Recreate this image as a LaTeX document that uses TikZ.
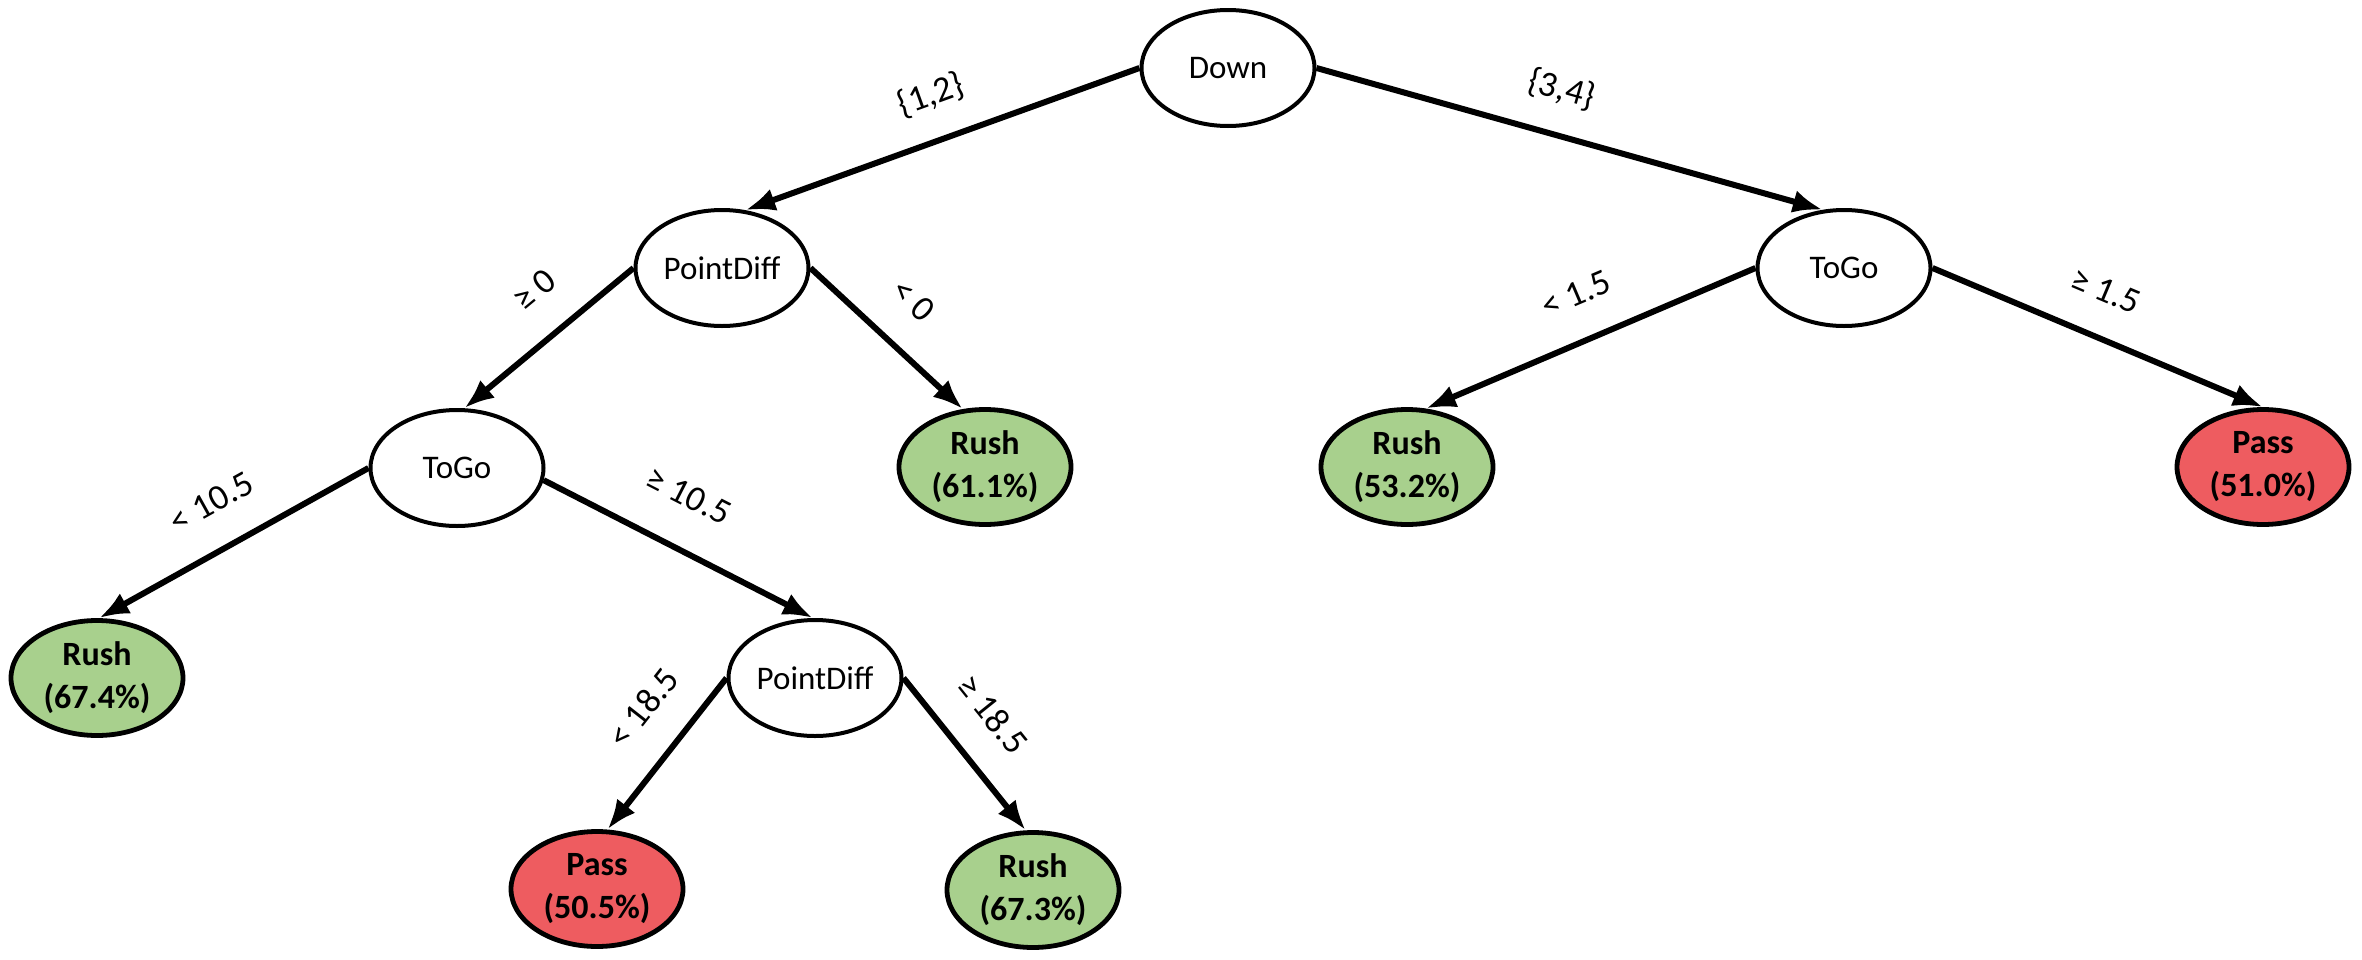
\documentclass[tikz,border=0pt]{standalone}
\usepackage{fontspec}
\setmainfont{Carlito}
\usetikzlibrary{arrows.meta,shapes.geometric}
\definecolor{leafgreen}{RGB}{168,208,141}
\definecolor{leafred}{RGB}{238,92,96}
\tikzset{
  splitnode/.style={ellipse,draw,line width=2pt,fill=white,minimum width=86.5pt,minimum height=58pt,inner sep=0pt,font=\fontsize{16.5}{21}\selectfont},
  leafnode/.style={ellipse,draw,line width=2.4pt,minimum width=86pt,minimum height=57.5pt,inner sep=0pt,align=center,font=\fontsize{17}{21.5}\selectfont\bfseries},
  rushleaf/.style={leafnode,fill=leafgreen},
  passleaf/.style={leafnode,fill=leafred},
  branch/.style={line width=3pt,-{Latex[length=15pt,width=11.5pt]}},
  cond/.style={sloped,above=12pt,inner sep=0pt,text height=13pt,text depth=4pt,font=\fontsize{18}{21}\selectfont}
}
\begin{document}
\begin{tikzpicture}[x=0.5pt,y=-0.5pt]
\useasboundingbox (0,0) rectangle (2362,959);
\node[splitnode] (down) at (1228,68) {Down};
\node[splitnode] (pd1) at (722,268) {PointDiff};
\node[splitnode] (togor) at (1844,268) {ToGo};
\node[splitnode] (togol) at (457,468) {ToGo};
\node[rushleaf] (r611) at (985,467) {Rush\\(61.1\%)};
\node[rushleaf] (r532) at (1407,467) {Rush\\(53.2\%)};
\node[passleaf] (p510) at (2263,467) {Pass\\(51.0\%)};
\node[rushleaf] (r674) at (97,678) {Rush\\(67.4\%)};
\node[splitnode] (pd2) at (815,678) {PointDiff};
\node[passleaf] (p505) at (597,889) {Pass\\(50.5\%)};
\node[rushleaf] (r673) at (1033,890) {Rush\\(67.3\%)};

\draw[branch] (down.west) -- node[cond,pos=0.49] {\{1,2\}} (pd1.68);
\draw[branch] (down.east) -- node[cond,pos=0.46] {\{3,4\}} (togor.110);
\draw[branch] (pd1.west) -- node[cond,pos=0.41] {≥ 0} (togol.83);
\draw[branch] (pd1.east) -- node[cond,pos=0.47] {< 0} (r611.111);
\draw[branch] (togor.west) -- node[cond,pos=0.49] {< 1.5} (r532.72);
\draw[branch] (togor.east) -- node[cond,pos=0.47] {≥ 1.5} (p510.90);
\draw[branch] (togol.west) -- node[cond,pos=0.5] {< 10.5} (r674.88);
\draw[branch] (togol.-8) -- node[cond,pos=0.45,above=3pt] {≥ 10.5} (pd2.92);
\draw[branch] (pd2.west) -- node[cond,pos=0.39] {< 18.5} (p505.80);
\draw[branch] (pd2.east) -- node[cond,pos=0.43] {≥ 18.5} (r673.97);
\end{tikzpicture}
\end{document}
